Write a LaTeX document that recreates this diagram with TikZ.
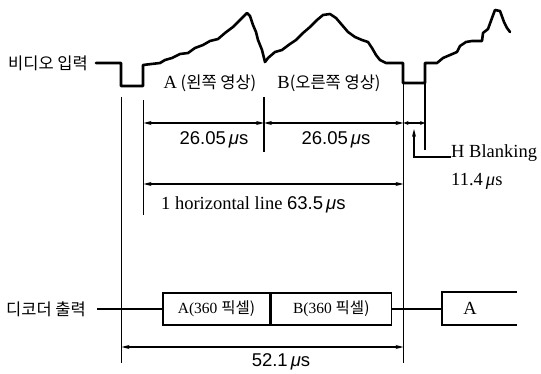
\documentclass[tikz,border=0pt]{standalone}
\usepackage{fontspec}
\setmainfont{Liberation Serif}
\newfontfamily\kr{Noto Sans CJK KR}
\newfontfamily\lsans{Liberation Sans}
\usetikzlibrary{arrows.meta}
\newcommand{\us}{\,\textit{μ}s}
\begin{document}
\begin{tikzpicture}[x=1pt,y=-1pt,
  wave/.style={line width=2.6pt,line join=round,line cap=round},
  thin/.style={line width=1.3pt},
  dim/.style={line width=1.3pt,{Stealth[length=8pt,width=4pt]}-{Stealth[length=8pt,width=4pt]}},
  lbl/.style={inner sep=0pt,font=\fontsize{16.5}{18}\selectfont\kr},
  txt/.style={inner sep=0pt,font=\fontsize{18.5}{20}\selectfont},
  box/.style={draw,line width=1.3pt,minimum height=32pt,inner sep=0pt,font=\fontsize{15.5}{17}\selectfont}]
\useasboundingbox (0,0) rectangle (541,374);
% video input label and waveform
\node[lbl,anchor=west] (vin) at (8,63) {비디오 입력};
\draw[wave] (96,63) -- (121,63) -- (121,86) -- (143,86) -- (143,65) -- (160,63) -- (165,60) -- (172,58) -- (180,54) -- (188,53) -- (195,48) -- (203,45) -- (210,41) -- (218,39) -- (225,33) -- (233,27) -- (240,20) -- (247,13) -- (250,16) -- (253,25) -- (256,32) -- (258,40) -- (262,50) -- (265,62) -- (268,58) -- (275,52) -- (282,50) -- (290,44) -- (296,40) -- (303,33) -- (310,27) -- (317,20) -- (323,15) -- (330,14) -- (336,18) -- (342,25) -- (348,32) -- (355,37) -- (362,40) -- (368,42) -- (372,48) -- (376,55) -- (380,60) -- (386,63) -- (403,63) -- (403,83) -- (425,83) -- (425,63) -- (437,63) -- (443,58) -- (450,55) -- (457,52) -- (460,46) -- (466,42) -- (472,41) -- (482,41) -- (483,33) -- (488,29) -- (492,18) -- (495,10) -- (500,11) -- (504,22) -- (507,28) -- (510,32);
\node[lbl] (ta) at (210,83) {\rmfamily\fontsize{18.5}{20}\selectfont A\kr\fontsize{16.5}{18}\selectfont\ (왼쪽 영상)};
\node[lbl] (tb) at (329,83) {\rmfamily\fontsize{18.5}{20}\selectfont B\kr\fontsize{16.5}{18}\selectfont(오른쪽 영상)};
% extension lines
\coordinate (v1t) at (121.5,97); \coordinate (v1b) at (121.5,363);
\coordinate (v2t) at (143.5,100); \coordinate (v2b) at (143.5,215);
\coordinate (v3t) at (264,97); \coordinate (v3b) at (264,152);
\coordinate (v4t) at (403.5,83); \coordinate (v4b) at (403.5,363);
\coordinate (v5t) at (425,83); \coordinate (v5b) at (425,150);
\foreach \a in {v1,v2,v3,v4,v5} {\draw[thin] (\a t) -- (\a b);}
% dimensions
\coordinate (d1a) at (143.5,123); \coordinate (d1b) at (264,123);
\coordinate (d2b) at (403.5,123); \coordinate (d3b) at (425,123);
\draw[dim] (d1a) -- (d1b);
\draw[dim] (d1b) -- (d2b);
\draw[line width=1.3pt,{Stealth[length=5pt,width=4pt]}-{Stealth[length=5pt,width=4pt]}] (d2b) -- (d3b);
\node[txt] (t1) at (214,140) {\lsans 26.05\us};
\node[txt] (t2) at (336,140) {\lsans 26.05\us};
\coordinate (d4a) at (143.5,184); \coordinate (d4b) at (403.5,184);
\draw[dim] (d4a) -- (d4b);
\node[txt,anchor=west] (t4) at (161,205) {1 horizontal line \lsans 63.5\us};
% H blanking leader
\node[txt,anchor=west] (hb) at (451,153) {H Blanking};
\node[txt,anchor=west] (hbv) at (451,181) {11.4\us};
\coordinate (hc) at (414,157); \coordinate (ht) at (414,129);
\draw[thin,-{Stealth[length=8pt,width=4pt]}] (hb.west |- hc) -- (hc) -- (ht);
% decoder output
\node[lbl,anchor=west] (dout) at (6,309) {디코더 출력};
\node[box,minimum width=107pt] (ba) at (216.5,309) {A(360 \kr 픽셀)};
\node[box,minimum width=120pt,anchor=west] (bb) at (ba.east) {B(360 \kr 픽셀)};
\draw[thin] (97,309) -- (ba.west);
\coordinate (cl) at (442,309);
\draw[thin] (bb.east) -- (cl);
\draw[thin] (517,292) -- (442,292) -- (442,325) -- (517,325);
\node[txt] (tc) at (470,308) {A};
\coordinate (d5a) at (121.5,347); \coordinate (d5b) at (403.5,347);
\draw[dim] (d5a) -- (d5b);
\node[txt] (t5) at (281,362) {\lsans 52.1\us};
\end{tikzpicture}
\end{document}
